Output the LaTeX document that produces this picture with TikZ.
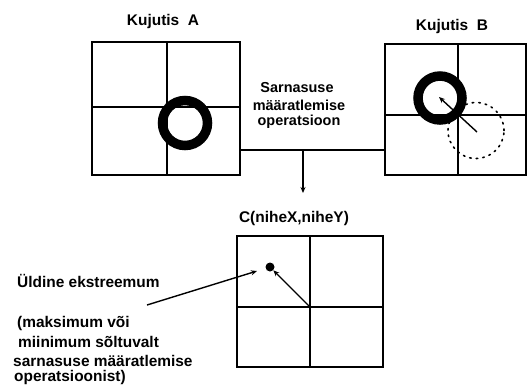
\documentclass[tikz,border=0pt]{standalone}
\usepackage{fontspec}
\setmainfont{Liberation Sans}
\usetikzlibrary{arrows.meta}
\begin{document}
\begin{tikzpicture}[x=1bp,y=-1bp,
  box/.style={draw,line width=1.3bp,inner sep=0pt,minimum width=#1},
  grid/.style={line width=1.3bp},
  lbl/.style={font=\fontsize{15.5}{18}\selectfont\bfseries,inner sep=0pt},
  lbs/.style={font=\fontsize{14.5}{18}\selectfont\bfseries,inner sep=0pt},
  ring/.style={line width=9.5bp},
  conn/.style={line width=1.4bp},
  arr/.style={line width=1.4bp,-{Stealth[length=6bp,width=5bp]}},
  dots/.style={line width=1.6bp,dash pattern=on 1.6bp off 5bp,line cap=round}]
\useasboundingbox (0,0) rectangle (528,387);
% boxes
\node[box=148bp,minimum height=133bp] (A) at (166,108.5) {};
\node[box=141bp,minimum height=131bp] (B) at (455.5,109.5) {};
\node[box=146bp,minimum height=131bp] (C) at (310,301.5) {};
% grid lines
\draw[grid] (A.north -| 167,0) -- (A.south -| 167,0);
\draw[grid] (A.west |- 0,107) -- (A.east |- 0,107);
\draw[grid] (B.north -| 458,0) -- (B.south -| 458,0);
\draw[grid] (B.west |- 0,115) -- (B.east |- 0,115);
\draw[grid] (C.north -| 310,0) -- (C.south -| 310,0);
\draw[grid] (C.west |- 0,307) -- (C.east |- 0,307);
% titles
\node[lbl,anchor=base] (tA) at (163,25) {Kujutis\ \ A};
\node[lbl,anchor=base] (tB) at (452,30) {Kujutis\ \ B};
\node[lbs,anchor=base] (op) at (297,92) {Sarnasuse};
\node[lbs,anchor=base] (op2) at (299,110) {määratlemise};
\node[lbs,anchor=base] (op3) at (299,125) {operatsioon};
\node[lbl,anchor=base] (tC) at (294,222) {C(niheX,niheY)};
% rings and shapes
\draw[ring] (185,123) circle[radius=22.5bp];
\draw[dots] (476,130.5) circle[radius=28bp];
\draw[ring] (440,98) circle[radius=22bp];
\coordinate (bs) at (477,132);
\coordinate (bc) at (439,97);
\draw[arr] (bs) -- (bc);
% connector
\coordinate (j) at (303,150);
\draw[conn] (A.east |- j) -- (B.west |- j);
\draw[arr] (j) -- (303,193) coordinate (jd);
% C contents
\coordinate (cc) at (310,307);
\node[circle,fill,inner sep=0pt,minimum size=9bp] (dot) at (270,267) {};
\draw[arr] (cc) -- (dot);
% left texts
\node[lbl,anchor=base west] (ext) at (17,287) {Üldine ekstreemum};
\coordinate (es) at (147,305);
\coordinate (ee) at (257,271);
\draw[arr] (es) -- (ee);
\node[lbl,anchor=base west] (l1) at (17,327) {(maksimum või};
\node[lbl,anchor=base west] (l2) at (18,347) {miinimum sõltuvalt};
\node[lbl,anchor=base west] (l3) at (13,366) {sarnasuse määratlemise};
\node[lbl,anchor=base west] (l4) at (14,381) {operatsioonist)};
\end{tikzpicture}
\end{document}
